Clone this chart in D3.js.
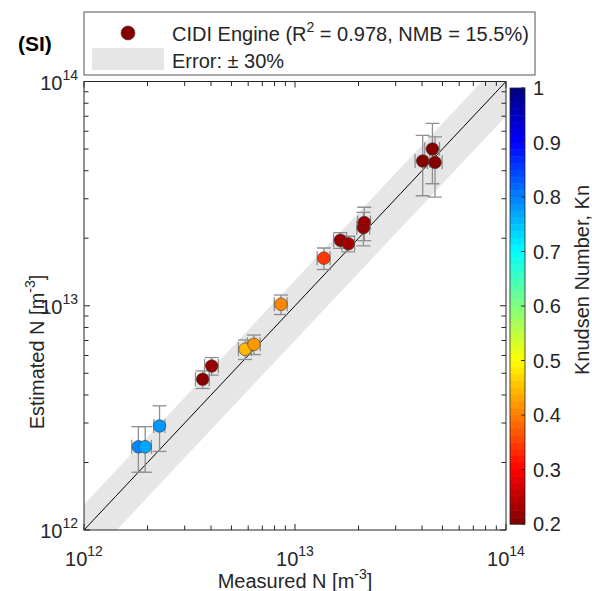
<!DOCTYPE html>
<html><head><meta charset="utf-8">
<script src="https://cdn.jsdelivr.net/npm/d3@7"></script>
<style>body{margin:0;background:#fff}svg{display:block;font-family:"Liberation Sans",Arial,sans-serif}</style>
</head><body>
<svg id="c" width="592" height="591"></svg>
<script>
// ---- data ----
const measured  = [1.81e12, 1.95e12, 2.28e12, 3.65e12, 4.03e12, 5.80e12, 6.39e12, 8.58e12, 1.37e13, 1.64e13, 1.79e13, 2.11e13, 2.13e13, 4.03e13, 4.48e13, 4.61e13];
const estimated = [2.35e12, 2.35e12, 2.91e12, 4.70e12, 5.39e12, 6.40e12, 6.73e12, 1.015e13, 1.63e13, 1.96e13, 1.89e13, 2.23e13, 2.35e13, 4.42e13, 5.00e13, 4.36e13];
const knudsen   = [0.79, 0.77, 0.78, 0.21, 0.22, 0.45, 0.42, 0.41, 0.35, 0.22, 0.23, 0.22, 0.22, 0.21, 0.21, 0.21];
const xErrFrac  = [0.07, 0.07, 0.06, 0.075, 0.075, 0.07, 0.07, 0.07, 0.07, 0.07, 0.07, 0.07, 0.07, 0.08, 0.08, 0.08];
const yErrFrac  = [0.23, 0.23, 0.23, 0.09, 0.09, 0.10, 0.10, 0.10, 0.11, 0.08, 0.08, 0.17, 0.17, 0.30, 0.30, 0.30];
const axisTicks = [1e12, 1e13, 1e14];
const axisExp   = ["12", "13", "14"];
const cbTicks   = [0.2, 0.3, 0.4, 0.5, 0.6, 0.7, 0.8, 0.9, 1];
const errorBand = 0.30;
const legendSeries = "CIDI Engine (R";
const legendSeriesRest = " = 0.978, NMB = 15.5%)";
const legendError = "Error: \u00b1 30%";

// ---- layout ----
const svg = d3.select("#c");
const L = 84, R = 506, T = 81.5, B = 530;
const x = d3.scaleLog().domain([1e12, 1e14]).range([L, R]);
const y = d3.scaleLog().domain([1e12, 1e14]).range([B, T]);
const axisCol = "#262626";

function jet(t) {
  const c = v => Math.max(0, Math.min(1, v));
  const r = c(1.5 - Math.abs(4 * t - 3)), g = c(1.5 - Math.abs(4 * t - 2)), b = c(1.5 - Math.abs(4 * t - 1));
  return d3.rgb(r * 255, g * 255, b * 255).toString();
}
const cmap = d3.scaleLinear().domain([1, 0.2]).range([0, 1]);
const nLev = 64;
const colorOf = k => { const t = cmap(k); const i = Math.min(nLev - 1, Math.max(0, Math.floor(t * nLev))); return jet((i + 0.5) / nLev); };

// clip
svg.append("clipPath").attr("id", "pc").append("rect").attr("x", L).attr("y", T).attr("width", R - L).attr("height", B - T);
const g = svg.append("g").attr("clip-path", "url(#pc)");

// error band (+/-30%)
const lineVals = d3.range(0, 61).map(i => Math.pow(10, 11.5 + i * 0.05));
const bandPts = lineVals.map(v => [x(v), y(v * (1 + errorBand))]).concat(lineVals.slice().reverse().map(v => [x(v), y(v * (1 - errorBand))]));
g.append("path").attr("d", d3.line()(bandPts)).attr("fill", "#e6e6e6");
// 1:1 line
g.append("path").attr("d", d3.line()(lineVals.map(v => [x(v), y(v)]))).attr("stroke", "#000").attr("stroke-width", 1).attr("fill", "none");

// error bars
const cap = 7, eCol = "#8f8f8f", eW = 1.3;
const eb = g.append("g").attr("stroke", eCol).attr("stroke-width", eW).attr("fill", "none");
measured.forEach((m, i) => {
  const e = estimated[i];
  const cx = x(m), cy = y(e);
  const y1 = y(e * (1 + yErrFrac[i])), y2 = y(e * (1 - yErrFrac[i]));
  const x1 = x(m * (1 - xErrFrac[i])), x2 = x(m * (1 + xErrFrac[i]));
  eb.append("line").attr("x1", cx).attr("x2", cx).attr("y1", y1).attr("y2", y2);
  eb.append("line").attr("x1", cx - cap).attr("x2", cx + cap).attr("y1", y1).attr("y2", y1);
  eb.append("line").attr("x1", cx - cap).attr("x2", cx + cap).attr("y1", y2).attr("y2", y2);
  eb.append("line").attr("x1", x1).attr("x2", x2).attr("y1", cy).attr("y2", cy);
  eb.append("line").attr("x1", x1).attr("x2", x1).attr("y1", cy - cap).attr("y2", cy + cap);
  eb.append("line").attr("x1", x2).attr("x2", x2).attr("y1", cy - cap).attr("y2", cy + cap);
});
// markers
g.selectAll("circle.pt").data(measured).join("circle").attr("class", "pt")
  .attr("cx", d => x(d)).attr("cy", (d, i) => y(estimated[i])).attr("r", 6.3)
  .attr("fill", (d, i) => colorOf(knudsen[i])).attr("stroke", "#3a3a3a").attr("stroke-width", 0.6);

// axes box + ticks
const minor = [];
[1e12, 1e13].forEach(b => { for (let k = 2; k <= 9; k++) minor.push(b * k); });
const ax = svg.append("g").attr("stroke", axisCol).attr("stroke-width", 1);
ax.append("rect").attr("x", L).attr("y", T).attr("width", R - L).attr("height", B - T).attr("fill", "none");
const tl = 4.5, tlMaj = 6;
minor.concat(axisTicks).forEach(v => {
  const len = axisTicks.includes(v) ? tlMaj : tl;
  ax.append("line").attr("x1", x(v)).attr("x2", x(v)).attr("y1", B).attr("y2", B - len);
  ax.append("line").attr("x1", x(v)).attr("x2", x(v)).attr("y1", T).attr("y2", T + len);
  ax.append("line").attr("y1", y(v)).attr("y2", y(v)).attr("x1", L).attr("x2", L + len);
  ax.append("line").attr("y1", y(v)).attr("y2", y(v)).attr("x1", R).attr("x2", R - len);
});

// tick labels
const fs = 20, sfs = 14;
axisTicks.forEach((v, i) => {
  const t = svg.append("text").attr("x", x(v)).attr("y", B + 36).attr("text-anchor", "middle").attr("font-size", fs).attr("fill", axisCol);
  t.append("tspan").text("10");
  t.append("tspan").attr("dy", -10).attr("font-size", sfs).text(axisExp[i]);
  const ty = svg.append("text").attr("x", L - 6).attr("y", y(v) + 8).attr("text-anchor", "end").attr("font-size", fs).attr("fill", axisCol);
  ty.append("tspan").text("10");
  ty.append("tspan").attr("dy", -10).attr("font-size", sfs).text(axisExp[i]);
});
// axis titles
const xt = svg.append("text").attr("x", (L + R) / 2).attr("y", 588).attr("text-anchor", "middle").attr("font-size", fs).attr("fill", axisCol);
xt.append("tspan").text("Measured N [m");
xt.append("tspan").attr("dy", -9).attr("font-size", sfs).text("-3");
xt.append("tspan").attr("dy", 9).text("]");
const yt = svg.append("text").attr("transform", `translate(44,352) rotate(-90)`).attr("text-anchor", "middle").attr("font-size", fs).attr("fill", axisCol);
yt.append("tspan").text("Estimated N [m");
yt.append("tspan").attr("dy", -9).attr("font-size", sfs).text("-3");
yt.append("tspan").attr("dy", 9).text("]");

// colorbar
const cbL = 510, cbW = 15, cbT = 88, cbB = 524;
const cy = d3.scaleLinear().domain([0.2, 1]).range([cbB, cbT]);
const cb = svg.append("g");
for (let i = 0; i < nLev; i++) {
  const k0 = 1 - 0.8 * i / nLev, k1 = 1 - 0.8 * (i + 1) / nLev;
  cb.append("rect").attr("x", cbL).attr("y", cy(k0)).attr("width", cbW).attr("height", cy(k1) - cy(k0) + 0.5).attr("fill", jet((i + 0.5) / nLev));
}
cb.append("rect").attr("x", cbL).attr("y", cbT).attr("width", cbW).attr("height", cbB - cbT).attr("fill", "none").attr("stroke", axisCol).attr("stroke-width", 0.8);
cbTicks.forEach(v => {
  cb.append("line").attr("x1", cbL + cbW - 4).attr("x2", cbL + cbW).attr("y1", cy(v)).attr("y2", cy(v)).attr("stroke", axisCol).attr("stroke-width", 1);
  cb.append("text").attr("x", cbL + cbW + 8).attr("y", cy(v) + 7).attr("font-size", fs).attr("fill", axisCol).text(String(v));
});
svg.append("text").attr("transform", `translate(589,280) rotate(-90)`).attr("text-anchor", "middle").attr("font-size", fs).attr("fill", axisCol).text("Knudsen Number, Kn");

// legend
const lg = svg.append("g");
lg.append("rect").attr("x", 84).attr("y", 12).attr("width", 451).attr("height", 63).attr("fill", "#fff").attr("stroke", "#555").attr("stroke-width", 1);
lg.append("circle").attr("cx", 128).attr("cy", 33).attr("r", 7).attr("fill", colorOf(0.21)).attr("stroke", "#3a3a3a").attr("stroke-width", 0.6);
lg.append("rect").attr("x", 92).attr("y", 48).attr("width", 72).attr("height", 22).attr("fill", "#e6e6e6");
const l1 = lg.append("text").attr("x", 172).attr("y", 41).attr("font-size", fs).attr("fill", axisCol);
l1.append("tspan").text(legendSeries);
l1.append("tspan").attr("dy", -9).attr("font-size", sfs).text("2");
l1.append("tspan").attr("dy", 9).text(legendSeriesRest);
lg.append("text").attr("x", 172).attr("y", 68).attr("font-size", fs).attr("fill", axisCol).text(legendError);

svg.append("text").attr("x", 18).attr("y", 51).attr("font-size", 21).attr("font-weight", "bold").attr("fill", "#000").text("(SI)");
</script>
</body></html>
